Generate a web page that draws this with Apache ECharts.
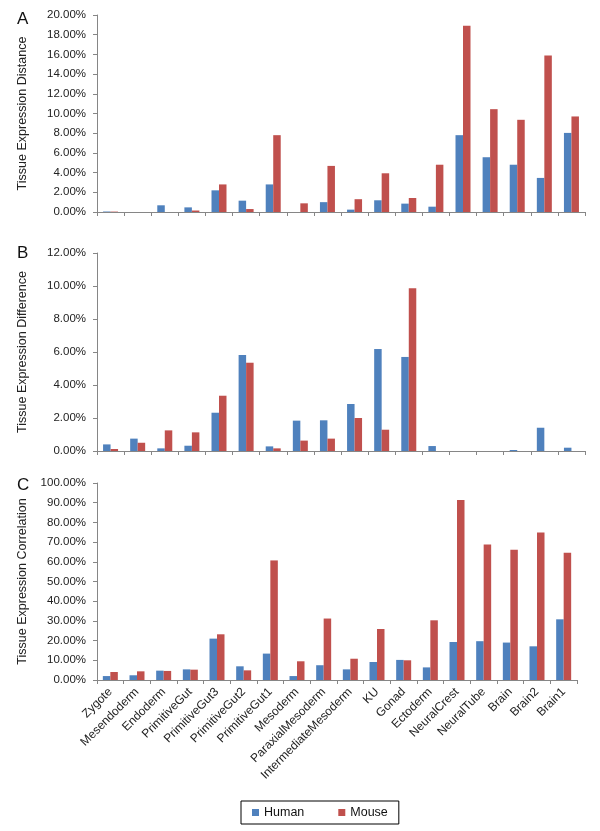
<!DOCTYPE html>
<html>
<head>
<meta charset="utf-8">
<script src="https://cdn.jsdelivr.net/npm/echarts@6/dist/echarts.min.js"></script>
<style>
html,body{margin:0;padding:0;background:#fff;}
#chart{width:600px;height:831px;}
</style>
</head>
<body>
<div id="chart"></div>
<script>
var categories = ["Zygote","Mesendoderm","Endoderm","PrimitiveGut","PrimitiveGut3","PrimitiveGut2","PrimitiveGut1","Mesoderm","ParaxialMesoderm","IntermediateMesoderm","KU","Gonad","Ectoderm","NeuralCrest","NeuralTube","Brain","Brain2","Brain1"];

// Panel A: Tissue Expression Distance (%)
var distanceHuman = [0.05,0,0.68,0.47,2.2,1.15,2.8,0,1.0,0.24,1.19,0.85,0.54,7.8,5.56,4.8,3.46,8.03];
var distanceMouse = [0.04,0,0,0.15,2.8,0.3,7.8,0.88,4.68,1.3,3.93,1.42,4.8,18.9,10.44,9.36,15.9,9.7];

// Panel B: Tissue Expression Difference (%)
var differenceHuman = [0.4,0.75,0.16,0.32,2.32,5.82,0.28,1.84,1.86,2.85,6.18,5.7,0.3,0,0,0.06,1.41,0.2];
var differenceMouse = [0.12,0.5,1.25,1.13,3.35,5.35,0.16,0.63,0.75,2.0,1.29,9.86,0,0,0,0,0,0];

// Panel C: Tissue Expression Correlation (%)
var correlationHuman = [2.0,2.4,4.75,5.4,21.0,6.95,13.4,2.0,7.5,5.4,9.15,10.2,6.4,19.3,19.7,19.0,17.1,30.8];
var correlationMouse = [4.07,4.4,4.6,5.25,23.2,4.9,60.7,9.5,31.2,10.8,25.9,10.0,30.3,91.4,68.8,66.1,74.9,64.6];

var seriesNames = ["Human","Mouse"];
var panelLetters = ["A","B","C"];
var axisTitles = ["Tissue Expression Distance","Tissue Expression Difference","Tissue Expression Correlation"];
var yMax = [20,12,100];
var yStep = [2,2,10];

var BLUE = "#4F81BD", RED = "#C0504D", AXIS = "#868686";
var FONT = "Liberation Sans, Arial, sans-serif";

var grids = [
  {left:97, top:15, width:488, height:197},
  {left:97, top:253, width:488, height:198},
  {left:97, top:483, width:480, height:197}
];

var xAxes = [], yAxes = [], series = [];
var dataSets = [[distanceHuman,distanceMouse],[differenceHuman,differenceMouse],[correlationHuman,correlationMouse]];
for (var i=0;i<3;i++){
  xAxes.push({
    type:"category", gridIndex:i, data:categories, boundaryGap:true,
    axisLine:{show:true, lineStyle:{color:AXIS, width:1}},
    axisTick:{show:true, length:4, lineStyle:{color:AXIS}, interval:0},
    axisLabel:{show:i===2, rotate:45, interval:0, fontFamily:FONT, fontSize:12, color:"#222", margin:10},
    splitLine:{show:false}
  });
  yAxes.push({
    type:"value", gridIndex:i, min:0, max:yMax[i], interval:yStep[i],
    name:axisTitles[i], nameLocation:"middle", nameGap:68, nameRotate:90,
    nameTextStyle:{fontFamily:FONT, fontSize:12.5, color:"#222"},
    axisLine:{show:true, lineStyle:{color:AXIS, width:1}},
    axisTick:{show:true, length:4, lineStyle:{color:AXIS}},
    axisLabel:{formatter:function(v){return v.toFixed(2)+"%";}, fontFamily:FONT, fontSize:11.5, color:"#222", margin:11},
    splitLine:{show:false}
  });
  for (var s=0;s<2;s++){
    series.push({
      name:seriesNames[s], type:"bar", xAxisIndex:i, yAxisIndex:i,
      data:dataSets[i][s], barWidth:7.5, barGap:"0%",
      itemStyle:{color: s===0?BLUE:RED},
      animation:false
    });
  }
}

var chart = echarts.init(document.getElementById("chart"), null, {renderer:"canvas"});
chart.setOption({
  animation:false,
  backgroundColor:"#fff",
  title:[
    {text:panelLetters[0], left:12, top:6, textStyle:{fontFamily:FONT, fontSize:17, fontWeight:"normal", color:"#111"}},
    {text:panelLetters[1], left:12, top:240, textStyle:{fontFamily:FONT, fontSize:17, fontWeight:"normal", color:"#111"}},
    {text:panelLetters[2], left:12, top:472, textStyle:{fontFamily:FONT, fontSize:17, fontWeight:"normal", color:"#111"}}
  ],
  legend:{
    data:seriesNames, left:241, top:801, orient:"horizontal",
    icon:"rect", itemWidth:7, itemHeight:7, itemGap:34,
    borderColor:"#000", borderWidth:1, padding:[5,11,5,11],
    textStyle:{fontFamily:FONT, fontSize:12.5, color:"#111"}
  },
  grid:grids,
  xAxis:xAxes,
  yAxis:yAxes,
  series:series
});
</script>
</body>
</html>
